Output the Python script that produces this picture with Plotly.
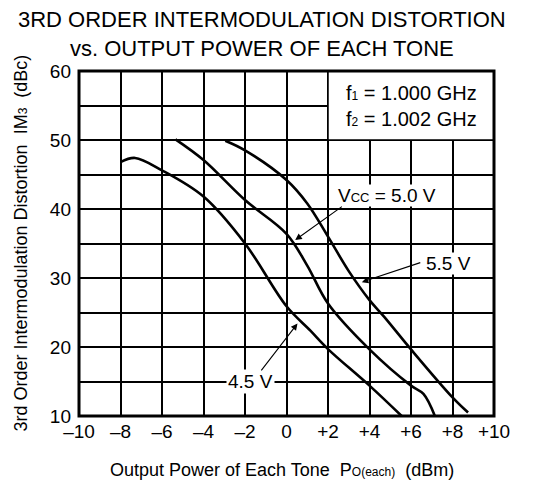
import plotly.graph_objects as go

# ---- data ----
x_45 = [-8.0, -7.3, -6.0, -4.0, -2.0, 0.0, 1.14, 2.0, 4.0, 5.55]
y_45 = [46.8, 47.4, 45.6, 41.8, 35.0, 25.9, 22.4, 19.7, 14.4, 10.0]

x_50 = [-5.35, -4.0, -2.0, 0.0, 1.0, 2.0, 4.0, 6.0, 6.6, 7.15]
y_50 = [50.1, 47.1, 41.3, 36.4, 31.8, 26.3, 19.65, 14.4, 13.2, 10.0]

x_55 = [-2.95, -2.0, 0.0, 1.0, 2.0, 3.0, 4.0, 4.7, 6.0, 8.0, 8.75]
y_55 = [49.9, 48.5, 44.2, 40.8, 36.0, 31.0, 26.8, 24.4, 19.65, 12.7, 10.5]

x_ticks = [-10, -8, -6, -4, -2, 0, 2, 4, 6, 8, 10]
x_ticktext = ["\u201310", "\u20138", "\u20136", "\u20134", "\u20132", "0", "+2", "+4", "+6", "+8", "+10"]
y_ticks = [10, 15, 20, 25, 30, 35, 40, 45, 50, 55, 60]
y_ticktext = ["10", "", "20", "", "30", "", "40", "", "50", "", "60"]

FONT = "Liberation Sans, Arial, Helvetica, sans-serif"

fig = go.Figure()
for xs, ys in [(x_45, y_45), (x_50, y_50), (x_55, y_55)]:
    fig.add_trace(go.Scatter(x=xs, y=ys, mode="lines",
                             line=dict(color="black", width=2.6, shape="spline", smoothing=1.0),
                             showlegend=False, hoverinfo="skip"))

sub = lambda s, sz=12: f"<span style='font-size:{sz}px'>{s}</span>"

# page body has an 8px margin, so the figure is drawn 8px in from the top-left
fig.update_layout(
    width=542, height=477,
    margin=dict(l=70.5, r=56, t=63, b=69),
    paper_bgcolor="white", plot_bgcolor="white",
    font=dict(family=FONT, color="black", size=18),
    showlegend=False,
    xaxis=dict(range=[-10, 10], tickvals=x_ticks, ticktext=x_ticktext,
               showgrid=True, gridcolor="black", gridwidth=1.5,
               zeroline=False, showline=False, ticks="",
               tickfont=dict(size=19), ticklabelstandoff=2),
    yaxis=dict(range=[10, 60], tickvals=y_ticks, ticktext=y_ticktext,
               showgrid=True, gridcolor="black", gridwidth=1.5,
               zeroline=False, showline=False, ticks="",
               tickfont=dict(size=19), ticklabelstandoff=7),
)

# legend box (conditions)
fig.add_shape(type="rect", xref="x", yref="y", x0=2, x1=10, y0=50, y1=60,
              fillcolor="white", line=dict(color="black", width=1.5), layer="above")
# frame
fig.add_shape(type="rect", xref="paper", yref="paper", x0=0, x1=1, y0=0, y1=1,
              line=dict(color="black", width=3), layer="above")

ann = []
# title
ann.append(dict(xref="paper", yref="paper", x=(262 - 78.5) / 415.5, y=1, yanchor="bottom",
                yshift=8, showarrow=False, align="center",
                text="3RD ORDER INTERMODULATION DISTORTION<br>vs. OUTPUT POWER OF EACH TONE",
                font=dict(size=22)))
# condition text
ann.append(dict(xref="x", yref="y", x=6, y=55, showarrow=False, align="left",
                text=f"f{sub('1')} = 1.000 GHz<br>f{sub('2')} = 1.002 GHz",
                font=dict(size=20)))
# curve labels
ann.append(dict(xref="x", yref="y", x=4.83, y=42.0, showarrow=False,
                text=f"V{sub('CC', 13)} = 5.0 V", bgcolor="white", borderpad=0,
                font=dict(size=19)))
ann.append(dict(xref="x", yref="y", x=-1.74, y=15.0, showarrow=False,
                text="4.5 V", bgcolor="white", borderpad=1, font=dict(size=19)))
ann.append(dict(xref="x", yref="y", x=7.8, y=32.1, showarrow=False,
                text="5.5 V", bgcolor="white", borderpad=0, font=dict(size=19)))
# arrows
for (tx, ty, hx, hy) in [(2.74, 40.5, 0.42, 35.5), (-1.27, 16.4, 0.53, 23.4), (6.52, 32.3, 3.63, 29.4)]:
    ann.append(dict(xref="x", yref="y", axref="x", ayref="y", x=hx, y=hy, ax=tx, ay=ty,
                    text="", showarrow=True, arrowhead=2, arrowsize=1.2, arrowwidth=1.1,
                    arrowcolor="black", standoff=0, startstandoff=0))
# axis titles
ann.append(dict(xref="paper", yref="paper", x=(282 - 78.5) / 415.5, y=0, yanchor="middle",
                yshift=-54, showarrow=False,
                text=f"Output Power of Each Tone\u00a0\u00a0P{sub('O(each)', 12)}\u00a0\u00a0(dBm)",
                font=dict(size=18)))
ann.append(dict(xref="paper", yref="paper", x=0, y=0.5, xanchor="center", xshift=-59,
                showarrow=False, textangle=-90,
                text=f"3rd Order Intermodulation Distortion\u00a0\u00a0IM{sub('3', 12)}\u00a0\u00a0(dBc)",
                font=dict(size=18)))
fig.update_layout(annotations=ann)

fig.write_html("out.html")
